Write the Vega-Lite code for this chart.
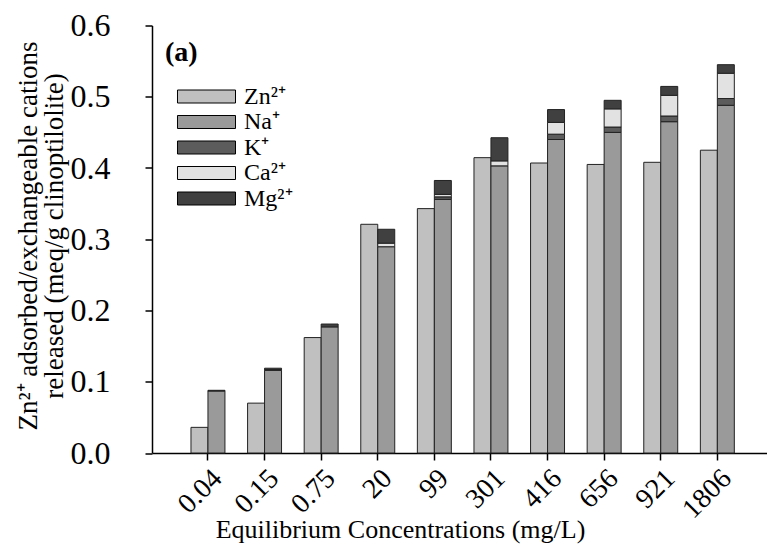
{
  "$schema": "https://vega.github.io/schema/vega-lite/v6.json",
  "width": 615,
  "height": 427.5,
  "autosize": {"type": "none"},
  "padding": {"left": 152, "top": 25.5, "right": 0, "bottom": 95},
  "background": "white",
  "config": {
    "font": "Liberation Serif",
    "view": {"stroke": null},
    "axis": {"grid": false, "domainColor": "black", "domainWidth": 1.5, "tickColor": "black", "tickWidth": 1.5, "tickSize": 7, "labelColor": "black", "titleColor": "black", "labelFont": "Liberation Serif", "titleFont": "Liberation Serif", "titleFontWeight": "normal"}
  },
  "data": {"values": [
    {"c": "0.04", "g": "Zn", "ion": "Zn²⁺", "v": 0.036},
    {"c": "0.04", "g": "Ex", "ion": "Na⁺", "v": 0.087},
    {"c": "0.04", "g": "Ex", "ion": "Mg²⁺", "v": 0.001},
    {"c": "0.15", "g": "Zn", "ion": "Zn²⁺", "v": 0.070},
    {"c": "0.15", "g": "Ex", "ion": "Na⁺", "v": 0.116},
    {"c": "0.15", "g": "Ex", "ion": "Ca²⁺", "v": 0.001},
    {"c": "0.15", "g": "Ex", "ion": "Mg²⁺", "v": 0.002},
    {"c": "0.75", "g": "Zn", "ion": "Zn²⁺", "v": 0.162},
    {"c": "0.75", "g": "Ex", "ion": "Na⁺", "v": 0.177},
    {"c": "0.75", "g": "Ex", "ion": "Mg²⁺", "v": 0.004},
    {"c": "20", "g": "Zn", "ion": "Zn²⁺", "v": 0.321},
    {"c": "20", "g": "Ex", "ion": "Na⁺", "v": 0.2895},
    {"c": "20", "g": "Ex", "ion": "Ca²⁺", "v": 0.005},
    {"c": "20", "g": "Ex", "ion": "Mg²⁺", "v": 0.0195},
    {"c": "99", "g": "Zn", "ion": "Zn²⁺", "v": 0.343},
    {"c": "99", "g": "Ex", "ion": "Na⁺", "v": 0.356},
    {"c": "99", "g": "Ex", "ion": "K⁺", "v": 0.0035},
    {"c": "99", "g": "Ex", "ion": "Ca²⁺", "v": 0.0035},
    {"c": "99", "g": "Ex", "ion": "Mg²⁺", "v": 0.0195},
    {"c": "301", "g": "Zn", "ion": "Zn²⁺", "v": 0.4145},
    {"c": "301", "g": "Ex", "ion": "Na⁺", "v": 0.403},
    {"c": "301", "g": "Ex", "ion": "Ca²⁺", "v": 0.007},
    {"c": "301", "g": "Ex", "ion": "Mg²⁺", "v": 0.0325},
    {"c": "416", "g": "Zn", "ion": "Zn²⁺", "v": 0.407},
    {"c": "416", "g": "Ex", "ion": "Na⁺", "v": 0.440},
    {"c": "416", "g": "Ex", "ion": "K⁺", "v": 0.0075},
    {"c": "416", "g": "Ex", "ion": "Ca²⁺", "v": 0.0165},
    {"c": "416", "g": "Ex", "ion": "Mg²⁺", "v": 0.018},
    {"c": "656", "g": "Zn", "ion": "Zn²⁺", "v": 0.405},
    {"c": "656", "g": "Ex", "ion": "Na⁺", "v": 0.450},
    {"c": "656", "g": "Ex", "ion": "K⁺", "v": 0.0075},
    {"c": "656", "g": "Ex", "ion": "Ca²⁺", "v": 0.0255},
    {"c": "656", "g": "Ex", "ion": "Mg²⁺", "v": 0.012},
    {"c": "921", "g": "Zn", "ion": "Zn²⁺", "v": 0.408},
    {"c": "921", "g": "Ex", "ion": "Na⁺", "v": 0.465},
    {"c": "921", "g": "Ex", "ion": "K⁺", "v": 0.008},
    {"c": "921", "g": "Ex", "ion": "Ca²⁺", "v": 0.029},
    {"c": "921", "g": "Ex", "ion": "Mg²⁺", "v": 0.0125},
    {"c": "1806", "g": "Zn", "ion": "Zn²⁺", "v": 0.425},
    {"c": "1806", "g": "Ex", "ion": "Na⁺", "v": 0.488},
    {"c": "1806", "g": "Ex", "ion": "K⁺", "v": 0.0095},
    {"c": "1806", "g": "Ex", "ion": "Ca²⁺", "v": 0.0355},
    {"c": "1806", "g": "Ex", "ion": "Mg²⁺", "v": 0.012}
  ]},
  "transform": [
    {"calculate": "indexof(['Zn²⁺', 'Na⁺', 'K⁺', 'Ca²⁺', 'Mg²⁺'], datum.ion)", "as": "stackRank"}
  ],
  "mark": {"type": "bar", "stroke": "#222222", "strokeWidth": 1},
  "encoding": {
    "x": {
      "field": "c", "type": "nominal",
      "sort": ["0.04", "0.15", "0.75", "20", "99", "301", "416", "656", "921", "1806"],
      "scale": {"paddingInner": 0.4, "paddingOuter": 0.633, "align": 0.544},
      "axis": {
        "title": "Equilibrium Concentrations (mg/L)",
        "titleFontSize": 26, "titleX": 248, "titleY": 84, "titleAlign": "center", "titleBaseline": "alphabetic", "titleAnchor": null,
        "labelFontSize": 28, "labelAngle": -45, "labelPadding": 4
      }
    },
    "xOffset": {"field": "g", "type": "nominal", "sort": ["Zn", "Ex"], "scale": {"paddingInner": 0, "paddingOuter": 0}},
    "y": {
      "field": "v", "type": "quantitative", "stack": "zero",
      "scale": {"domain": [0, 0.6], "nice": false},
      "axis": {
        "title": ["Zn²⁺ adsorbed/exchangeable cations", "released (meq/g clinoptilolite)"],
        "titleFontSize": 27, "titleLineHeight": 26, "titleX": -137, "titleY": 210, "titleAngle": -90, "titleAlign": "center", "titleBaseline": "top",
        "values": [0, 0.1, 0.2, 0.3, 0.4, 0.5, 0.6], "format": ".1f",
        "labelFontSize": 32, "labelPadding": 35
      }
    },
    "order": {"field": "stackRank", "type": "quantitative", "sort": "ascending"},
    "color": {
      "field": "ion", "type": "nominal",
      "sort": ["Zn²⁺", "Na⁺", "K⁺", "Ca²⁺", "Mg²⁺"],
      "scale": {"domain": ["Zn²⁺", "Na⁺", "K⁺", "Ca²⁺", "Mg²⁺"], "range": ["#c0c0c0", "#9a9a9a", "#5c5c5c", "#e2e2e2", "#404040"]},
      "legend": {
        "title": "(a)", "titleFontSize": 28, "titleFontWeight": "bold", "titleFont": "Liberation Serif", "titleColor": "black", "titlePadding": 18, "titleAnchor": "start",
        "orient": "none", "legendX": 13, "legendY": 13,
        "symbolType": "M0.075,-1H9.0V1H0.075Z", "symbolSize": 169, "symbolStrokeColor": "black", "symbolStrokeWidth": 1, "symbolOpacity": 1,
        "labelFontSize": 24, "labelColor": "black", "labelOffset": 55, "rowPadding": 1.5, "labelLimit": 200
      }
    }
  }
}
